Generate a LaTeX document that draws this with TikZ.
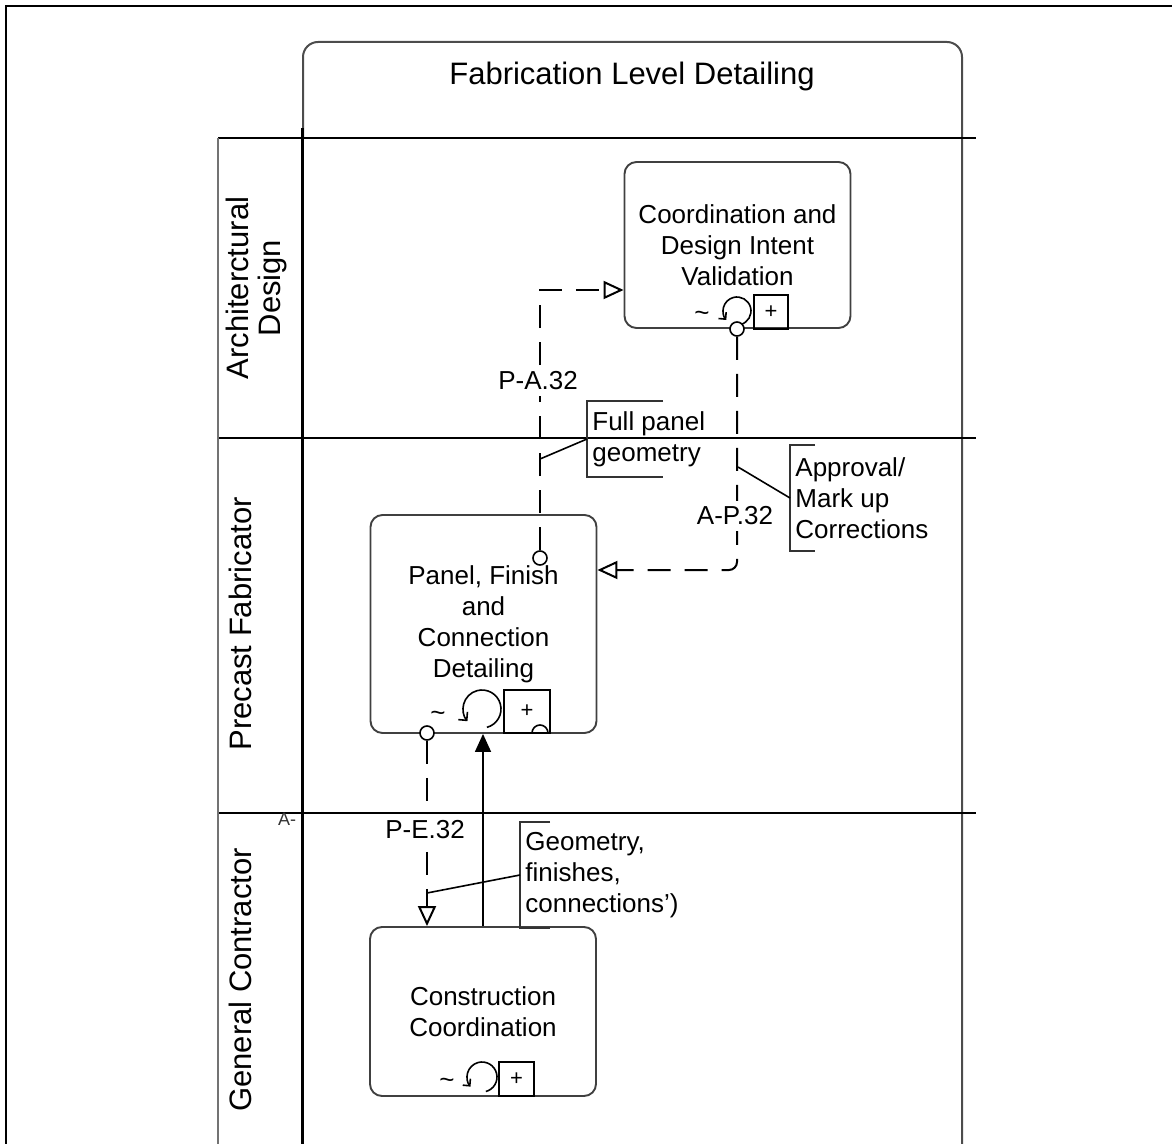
\documentclass[tikz,border=0pt]{standalone}
\usepackage{fontspec}
\setmainfont{Liberation Sans}
\usetikzlibrary{arrows.meta,positioning}

\begin{document}
\begin{tikzpicture}[
  x=0.5pt,y=-0.5pt,
  font=\fontsize{13}{15.5}\selectfont,
  task/.style={draw=black!75,line width=0.95pt,rounded corners=6pt,align=center,inner sep=0pt,minimum width=113pt},
  lanelabel/.style={rotate=90,align=center,font=\fontsize{15.5}{16}\selectfont},
  laneline/.style={line width=0.7pt},
  msgflow/.style={line width=1pt,dash pattern=on 11.5pt off 7pt,-{Triangle[open,length=10pt,width=9pt]}},
  seqflow/.style={line width=0.8pt,-{Triangle[length=9pt,width=8pt]}},
  msgstart/.style={circle,draw,fill=white,line width=0.8pt,inner sep=0pt,minimum size=7pt},
  flowlabel/.style={fill=white,inner sep=3pt},
  annot/.style={anchor=west,align=left,inner sep=0pt,inner xsep=2.5pt},
  bracket/.style={draw=black!80,line width=1pt},
  assoc/.style={line width=0.8pt},
  marker/.style={line width=0.8pt},
  plusmark/.style={font=\fontsize{11}{11}\selectfont},
]
\useasboundingbox (0,0) rectangle (1172,1144);
\draw[line width=1.1pt] (6,1144) -- (6,6) -- (1172,6);

% pool and lanes
\draw[line width=1pt,draw=black!70,rounded corners=7.5pt] (303,138) |- (962,42) -- (962,1144);
\node[font=\fontsize{15.5}{18}\selectfont] (poolTitle) at (632,76) {Fabrication Level Detailing};
\foreach \ly in {138,438,813}
  \draw[laneline] (218,\ly) -- (976,\ly);
\draw[line width=1.3pt,draw=black!55] (218,138) -- (218,1144);
\draw[line width=1.5pt] (302,128) -- (302,1144);
\node[lanelabel] (archLane) at (256,288) {Architerctural\\Design};
\node[lanelabel] (precastLane) at (240,624) {Precast Fabricator};
\node[lanelabel] (gcLane) at (240,980) {General Contractor};
\node[font=\fontsize{9}{10}\selectfont,text=black!80] (strayA) at (287,819) {A-};

% tasks
\node[task,minimum height=83pt] (coordTask) at (737.5,245)
  {Coordination and\\Design Intent\\Validation};
\node[task,minimum height=109pt] (panelTask) at (483.5,624)
  {Panel, Finish\\and\\Connection\\Detailing};
\node[task,minimum height=84.5pt] (constTask) at (483,1011.5)
  {Construction\\Coordination};

% loop and sub-process markers
\node (coordTilde) at (702,316) {\textasciitilde};
\draw[marker,-{Straight Barb[length=2.5pt]}] (737,311) ++(75:14) arc[start angle=75,end angle=-220,radius=14];
\draw[marker] (754,295) rectangle (788,329);
\node[plusmark] (coordPlus) at (771,312) {+};

\node (panelTilde) at (438,716) {\textasciitilde};
\draw[marker,-{Straight Barb[length=3pt]}] (482,709) ++(75:19) arc[start angle=75,end angle=-220,radius=19];
\draw[marker] (504,690) rectangle (550,733);
\node[plusmark] (panelPlus) at (527,711) {+};
\draw[marker] (532,733) arc[start angle=180,end angle=360,radius=8];

\node (constTilde) at (447,1083) {\textasciitilde};
\draw[marker,-{Straight Barb[length=2.5pt]}] (482,1077) ++(75:15) arc[start angle=75,end angle=-220,radius=15];
\draw[marker] (499,1062) rectangle (534,1096);
\node[plusmark] (constPlus) at (516.5,1079) {+};

% flows
\node[msgstart] (paStart) at (540,558) {};
\node[msgstart] (apStart) at (737,329) {};
\node[msgstart] (peStart) at (427,733) {};
\draw[msgflow] (paStart.north) |- ([yshift=-22.5pt]coordTask.west);
\draw[msgflow,rounded corners=4pt] (apStart.south) |- ([yshift=27pt]panelTask.east);
\draw[msgflow] (peStart.south) -- (peStart.south |- constTask.north);
\draw[seqflow] (constTask.north) -- (constTask.north |- panelTask.south);
\node[flowlabel] (paLabel) at (538,381) {P-A.32};
\node[flowlabel] (apLabel) at (735,516) {A-P.32};
\node[flowlabel] (peLabel) at (425,830) {P-E.32};

% annotations
\node[annot,minimum height=38pt] (panelGeom) at (587,439) {Full panel\\geometry};
\draw[bracket] ([xshift=38pt]panelGeom.north west) -- (panelGeom.north west)
  -- (panelGeom.south west) -- ([xshift=38pt]panelGeom.south west);
\coordinate (panelGeomAt) at (540,459);
\draw[assoc] (panelGeom.west) -- (panelGeomAt);

\node[annot,minimum height=53pt] (approvalNote) at (790,498) {Approval/\\Mark up\\Corrections};
\draw[bracket] ([xshift=12.5pt]approvalNote.north west) -- (approvalNote.north west)
  -- (approvalNote.south west) -- ([xshift=12.5pt]approvalNote.south west);
\coordinate (approvalAt) at (738,467);
\draw[assoc] (approvalNote.west) -- (approvalAt);

\node[annot,minimum height=52.5pt] (geomNote) at (520,875) {Geometry,\\finishes,\\connections')};
\draw[bracket] ([xshift=15pt]geomNote.north west) -- (geomNote.north west)
  -- (geomNote.south west) -- ([xshift=15pt]geomNote.south west);
\coordinate (geomAt) at (427,893);
\draw[assoc] (geomNote.west) -- (geomAt);
\end{tikzpicture}
\end{document}
